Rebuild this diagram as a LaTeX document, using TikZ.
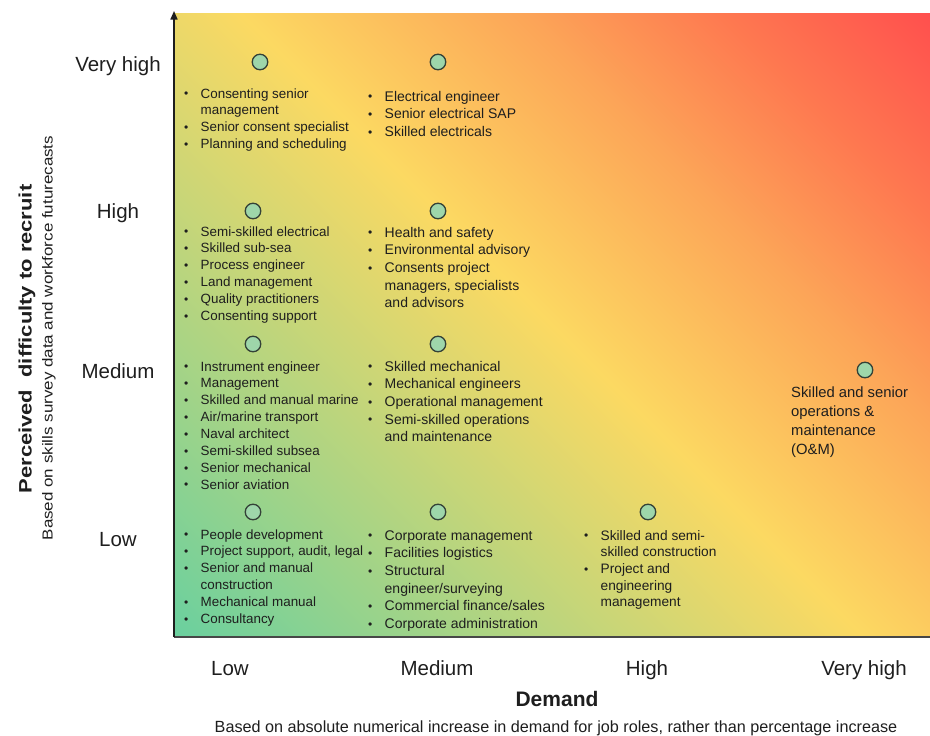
\documentclass[tikz,border=0pt]{standalone}
\usepackage{graphicx}
\usepackage{fontspec}
\setmainfont{Liberation Sans}
\usetikzlibrary{arrows.meta}

\definecolor{heatGreen}{RGB}{108,208,158}
\definecolor{heatYellow}{RGB}{252,217,98}
\definecolor{heatOrange}{RGB}{252,165,88}
\definecolor{heatDeep}{RGB}{254,120,80}
\definecolor{heatRed}{RGB}{255,80,78}
\definecolor{dotFill}{RGB}{158,214,170}
\definecolor{dotLine}{RGB}{52,66,56}
\definecolor{inkGrey}{RGB}{30,30,30}

\pgfdeclarehorizontalshading{heatmap}{100bp}{color(0bp)=(heatGreen); color(15bp)=(heatGreen); color(50bp)=(heatYellow); color(64.6bp)=(heatOrange); color(75bp)=(heatDeep); color(85.4bp)=(heatRed); color(100bp)=(heatRed)}

\tikzset{
  level/.style={font=\fontsize{20.5}{24}\selectfont, text=inkGrey, anchor=base, inner sep=0pt},
  roles/.style 2 args={font=\fontsize{#1}{#2}\selectfont, text=inkGrey, anchor=base west, inner sep=0pt},
  roleDot/.style={circle, draw=dotLine, fill=dotFill, line width=1.3pt, minimum size=15.5pt, inner sep=0pt}
}

\begin{document}
\begin{tikzpicture}[x=1pt,y=-1pt]
  \newcommand{\jobBullet}{\makebox[16.5pt][l]{\raisebox{0.4pt}{\fontsize{12}{12}\selectfont\textbullet}}}

  \useasboundingbox (0,0) rectangle (930,736);
  \shade[shading=heatmap, shading angle=45] (174,13) rectangle (930,637);

  \coordinate (origin) at (174,637);
  \coordinate (yTip) at (174,11);
  \coordinate (xEnd) at (930,637);
  \draw[line width=2.4pt, black!72] (origin) -- (xEnd);
  \draw[line width=1.5pt, inkGrey, -{Triangle[length=8.5pt,width=7pt]}] (origin) -- (yTip);

  % axis levels
  \node[level] (yVeryHigh) at (118,71) {Very high};
  \node[level] (yHigh) at (118,218.5) {High};
  \node[level] (yMedium) at (118,378.5) {Medium};
  \node[level] (yLow) at (118,546.5) {Low};
  \node[level] (xLow) at (230,675.5) {Low};
  \node[level] (xMedium) at (437,675.5) {Medium};
  \node[level] (xHigh) at (647,675.5) {High};
  \node[level] (xVeryHigh) at (864,675.5) {Very high};

  \node[font=\bfseries\fontsize{21}{24}\selectfont, text=inkGrey, anchor=base, inner sep=0pt] (xTitle) at (557,706.5) {Demand};
  \node[font=\fontsize{16.2}{18}\selectfont, text=inkGrey, anchor=base, inner sep=0pt] (xNote) at (556,732) {Based on absolute numerical increase in demand for job roles, rather than percentage increase};
  \node[rotate=90, font=\bfseries\fontsize{18}{20}\selectfont, text=inkGrey, inner sep=0pt] (yTitle) at (27,339) {\scalebox{1.22}[1]{Perceived\ \ difficulty to recruit}};
  \node[rotate=90, font=\fontsize{14.5}{17}\selectfont, text=inkGrey, inner sep=0pt] (yNote) at (49,338) {\scalebox{1.17}[1]{Based on skills survey data and workforce futurecasts}};

  % dots
  \node[roleDot] (dotVhLow) at (260,62) {};
  \node[roleDot] (dotVhMed) at (438,62) {};
  \node[roleDot] (dotHiLow) at (253,211) {};
  \node[roleDot] (dotHiMed) at (438,211) {};
  \node[roleDot] (dotMdLow) at (253,344) {};
  \node[roleDot] (dotMdMed) at (438,344) {};
  \node[roleDot] (dotMdVh) at (865,370) {};
  \node[roleDot] (dotLoLow) at (253,512) {};
  \node[roleDot] (dotLoMed) at (438,512) {};
  \node[roleDot] (dotLoHigh) at (648,512) {};

  % job roles
  \node[roles={13.4}{16.9}] (listVhLow) at (184,98) {\begin{tabular}[t]{@{}l@{}l@{}}
    \jobBullet & Consenting senior\\
               & management\\
    \jobBullet & Senior consent specialist\\
    \jobBullet & Planning and scheduling
  \end{tabular}};
  \node[roles={14}{17.7}] (listVhMed) at (368,101) {\begin{tabular}[t]{@{}l@{}l@{}}
    \jobBullet & Electrical engineer\\
    \jobBullet & Senior electrical SAP\\
    \jobBullet & Skilled electricals
  \end{tabular}};
  \node[roles={13.4}{16.9}] (listHiLow) at (184,236) {\begin{tabular}[t]{@{}l@{}l@{}}
    \jobBullet & Semi-skilled electrical\\
    \jobBullet & Skilled sub-sea\\
    \jobBullet & Process engineer\\
    \jobBullet & Land management\\
    \jobBullet & Quality practitioners\\
    \jobBullet & Consenting support
  \end{tabular}};
  \node[roles={14}{17.7}] (listHiMed) at (368,237) {\begin{tabular}[t]{@{}l@{}l@{}}
    \jobBullet & Health and safety\\
    \jobBullet & Environmental advisory\\
    \jobBullet & Consents project\\
               & managers, specialists\\
               & and advisors
  \end{tabular}};
  \node[roles={13.4}{16.9}] (listMdLow) at (184,371) {\begin{tabular}[t]{@{}l@{}l@{}}
    \jobBullet & Instrument engineer\\
    \jobBullet & Management\\
    \jobBullet & Skilled and manual marine\\
    \jobBullet & Air/marine transport\\
    \jobBullet & Naval architect\\
    \jobBullet & Semi-skilled subsea\\
    \jobBullet & Senior mechanical\\
    \jobBullet & Senior aviation
  \end{tabular}};
  \node[roles={14}{17.7}] (listMdMed) at (368,371) {\begin{tabular}[t]{@{}l@{}l@{}}
    \jobBullet & Skilled mechanical\\
    \jobBullet & Mechanical engineers\\
    \jobBullet & Operational management\\
    \jobBullet & Semi-skilled operations\\
               & and maintenance
  \end{tabular}};
  \node[roles={14.8}{19.2}] (listMdVh) at (791,397) {\begin{tabular}[t]{@{}l@{}}
    Skilled and senior\\
    operations \&\\
    maintenance\\
    (O\&M)
  \end{tabular}};
  \node[roles={13.4}{16.9}] (listLoLow) at (184,539) {\begin{tabular}[t]{@{}l@{}l@{}}
    \jobBullet & People development\\
    \jobBullet & Project support, audit, legal\\
    \jobBullet & Senior and manual\\
               & construction\\
    \jobBullet & Mechanical manual\\
    \jobBullet & Consultancy
  \end{tabular}};
  \node[roles={14}{17.7}] (listLoMed) at (368,540) {\begin{tabular}[t]{@{}l@{}l@{}}
    \jobBullet & Corporate management\\
    \jobBullet & Facilities logistics\\
    \jobBullet & Structural\\
               & engineer/surveying\\
    \jobBullet & Commercial finance/sales\\
    \jobBullet & Corporate administration
  \end{tabular}};
  \node[roles={13.7}{16.7}] (listLoHigh) at (584,540) {\begin{tabular}[t]{@{}l@{}l@{}}
    \jobBullet & Skilled and semi-\\
               & skilled construction\\
    \jobBullet & Project and\\
               & engineering\\
               & management
  \end{tabular}};
\end{tikzpicture}
\end{document}
